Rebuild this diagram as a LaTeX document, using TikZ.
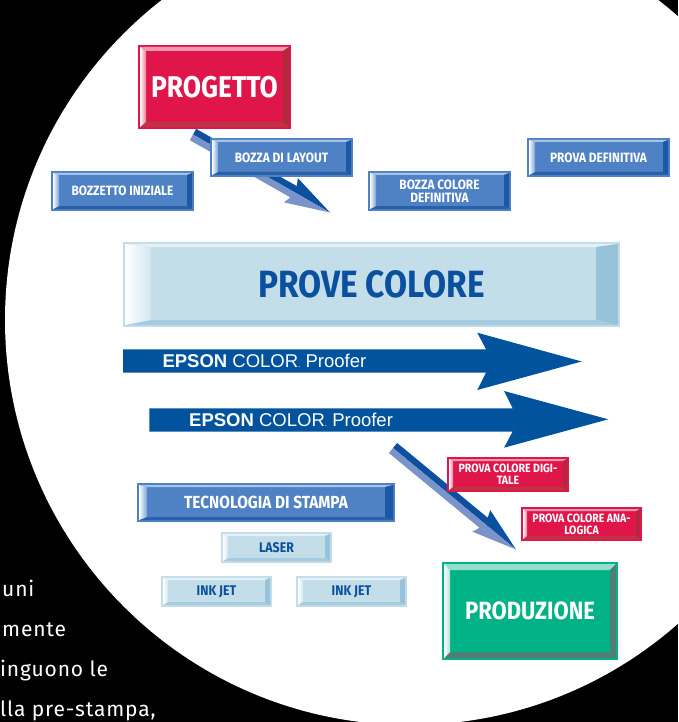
\documentclass[tikz,border=0pt]{standalone}
\usepackage{fontspec}
\newfontfamily\labf{Fira Sans}[FakeStretch=0.88]
\newfontfamily\arialf{Liberation Sans}
\newfontfamily\bodyf{Fira Sans}[LetterSpace=4]
\usetikzlibrary{calc}
\definecolor{crim}{RGB}{224,22,75}
\definecolor{mblue}{RGB}{79,130,196}
\definecolor{lblue}{RGB}{195,221,233}
\definecolor{dblue}{RGB}{10,80,158}
\definecolor{grn}{RGB}{0,178,134}
\definecolor{arrowblue}{RGB}{0,83,156}
\definecolor{alight}{RGB}{122,147,201}
\definecolor{adark}{RGB}{14,80,160}
% bevel colours
\definecolor{rtop}{RGB}{240,150,172}
\definecolor{rleft}{RGB}{238,120,150}
\definecolor{rright}{RGB}{180,40,60}
\definecolor{rbot}{RGB}{190,50,70}
\definecolor{btop}{RGB}{170,196,232}
\definecolor{bleft}{RGB}{120,160,215}
\definecolor{bright}{RGB}{28,88,165}
\definecolor{bbot}{RGB}{40,96,170}
\definecolor{ltop}{RGB}{228,240,246}
\definecolor{lleft}{RGB}{210,230,240}
\definecolor{lright}{RGB}{150,195,218}
\definecolor{lbot}{RGB}{165,203,224}
\definecolor{gtop}{RGB}{150,220,200}
\definecolor{gleft}{RGB}{170,228,212}
\definecolor{gright}{RGB}{80,125,118}
\definecolor{gbot}{RGB}{80,125,118}
% #1 node, #2 top, #3 left, #4 right, #5 bottom, #6 wt, #7 wl, #8 wr, #9 wb
\newcommand\mybevel[9]{%
 \pgfmathsetmacro\bt{2+#6}\pgfmathsetmacro\bl{2+#7}%
 \pgfmathsetmacro\br{2+#8}\pgfmathsetmacro\bb{2+#9}%
 \coordinate (o1) at ($(#1.north west)+(2pt,-2pt)$);
 \coordinate (o2) at ($(#1.north east)+(-2pt,-2pt)$);
 \coordinate (o3) at ($(#1.south east)+(-2pt,2pt)$);
 \coordinate (o4) at ($(#1.south west)+(2pt,2pt)$);
 \coordinate (i1) at ($(#1.north west)+(\bl pt,-\bt pt)$);
 \coordinate (i2) at ($(#1.north east)+(-\br pt,-\bt pt)$);
 \coordinate (i3) at ($(#1.south east)+(-\br pt,\bb pt)$);
 \coordinate (i4) at ($(#1.south west)+(\bl pt,\bb pt)$);
 \fill[#2] (o1) -- (o2) -- (i2) -- (i1) -- cycle;
 \fill[#4] (o2) -- (o3) -- (i3) -- (i2) -- cycle;
 \fill[#5] (o3) -- (o4) -- (i4) -- (i3) -- cycle;
 \shade[left color=white, right color=#3] (o4) -- (o1) -- (i1) -- (i4) -- cycle;
}
% #1 tail, #2 tip
\newcommand\threedarrow[2]{%
 \coordinate (qB) at ($(#2)!42pt!(#1)$);
 \coordinate (qC) at ($(#2)!45pt!(#1)$);
 \fill[adark] (#1) -- ($(#1)!6.5pt!90:(#2)$) -- ($(qB)!6.5pt!90:(#2)$) -- ($(qC)!14pt!90:(#2)$) -- (#2) -- cycle;
 \fill[alight] (#1) -- ($(#1)!6.5pt!-90:(#2)$) -- ($(qB)!6.5pt!-90:(#2)$) -- ($(qC)!14pt!-90:(#2)$) -- (#2) -- cycle;
}
\tikzset{
 box/.style={inner sep=0pt, outer sep=0pt, align=center},
 redbox/.style={box, fill=crim, text=white},
 bluebox/.style={box, fill=mblue, text=white},
 lbox/.style={box, fill=lblue, text=dblue},
 greenbox/.style={box, fill=grn, text=white},
 smallbox/.style={minimum width=143pt, minimum height=39pt, font=\labf\bfseries\fontsize{13.5}{13.5}\selectfont},
 tinybox/.style={minimum width=111pt, minimum height=31pt, font=\labf\bfseries\fontsize{14}{14}\selectfont},
 redsmall/.style={minimum width=122pt, minimum height=35pt, font=\labf\bfseries\fontsize{12}{12}\selectfont},
 epson/.style={anchor=base west, inner sep=0pt, text=white, font=\arialf\fontsize{18.5}{18.5}\selectfont},
 body/.style={anchor=base west, inner sep=0pt, text=white, font=\bodyf\fontsize{21}{21}\selectfont},
 bigarrow/.style={fill=arrowblue}
}
\begin{document}
\begin{tikzpicture}[x=1pt,y=-1pt]
\useasboundingbox (0,0) rectangle (678,722);
\begin{scope}
 \clip (0,0) rectangle (678,722);
 \fill[black] (0,0) rectangle (678,722);
 \fill[white] (410,320) circle [radius=405pt];
\end{scope}

% 3D arrows
\coordinate (aT) at (193,134.5);
\coordinate (aP) at (330,212.5);
\threedarrow{aT}{aP}
\coordinate (bT) at (393,448);
\coordinate (bP) at (516,549.5);
\threedarrow{bT}{bP}

% EPSON arrows
\fill[bigarrow] (123,349.3) -- (486,349.3) -- (477.3,332.7) -- (581.7,361.5) -- (477.3,390) -- (486,372.7) -- (123,372.7) -- cycle;
\fill[bigarrow] (149.3,408.3) -- (512.7,408.3) -- (504,391) -- (608.3,419.3) -- (504,447.7) -- (512.7,431.5) -- (149.3,431.5) -- cycle;
\node[epson] (ep1) at (162.3,367.7) {\textbf{EPSON} COLOR{\fontsize{8}{8}\selectfont.} Proofer};
\node[epson] (ep2) at (189,426.7) {\textbf{EPSON} COLOR{\fontsize{8}{8}\selectfont.} Proofer};

% boxes
\node[redbox, minimum width=153pt, minimum height=84pt, font=\labf\bfseries\fontsize{30}{30}\selectfont] (prog) at (214.5,87) {PROGETTO};
\mybevel{prog}{rtop}{rleft}{rright}{rbot}{4}{6}{6}{5}

\node[bluebox, smallbox] (bozlay) at (281.5,157.5) {BOZZA DI LAYOUT};
\mybevel{bozlay}{btop}{bleft}{bright}{bbot}{2}{6}{5}{3}
\node[bluebox, smallbox, minimum height=40pt] (bozini) at (122.5,191) {BOZZETTO INIZIALE};
\mybevel{bozini}{btop}{bleft}{bright}{bbot}{2}{6}{5}{3}
\node[bluebox, smallbox, minimum height=40pt] (bozcol) at (439.5,191) {BOZZA COLORE\\DEFINITIVA};
\mybevel{bozcol}{btop}{bleft}{bright}{bbot}{2}{6}{5}{3}
\node[bluebox, smallbox] (provdef) at (598.5,157.5) {PROVA DEFINITIVA};
\mybevel{provdef}{btop}{bleft}{bright}{bbot}{2}{6}{5}{3}

\node[lbox, minimum width=497pt, minimum height=85pt, font=\labf\bfseries\fontsize{38}{38}\selectfont] (prove) at (371.5,284.5) {PROVE COLORE};
\mybevel{prove}{ltop}{lleft}{lright}{lbot}{3}{26}{22}{5}

\node[redbox, redsmall] (pcd) at (508,474.5) {PROVA COLORE DIGI-\\TALE};
\mybevel{pcd}{rtop}{rleft}{rright}{rbot}{2}{4}{4}{3}
\node[redbox, redsmall, minimum width=121pt, minimum height=34pt] (pca) at (581.5,524) {PROVA COLORE ANA-\\LOGICA};
\mybevel{pca}{rtop}{rleft}{rright}{rbot}{2}{4}{4}{3}

\node[bluebox, minimum width=258pt, minimum height=39pt, font=\labf\bfseries\fontsize{17.5}{17.5}\selectfont] (tec) at (266,502.5) {TECNOLOGIA DI STAMPA};
\mybevel{tec}{btop}{bleft}{bright}{bbot}{2}{8}{8}{3}

\node[lbox, tinybox] (laser) at (276.5,547.5) {LASER};
\mybevel{laser}{ltop}{lleft}{lright}{lbot}{2}{5}{5}{3}
\node[lbox, tinybox] (ink1) at (216.5,591.5) {INK JET};
\mybevel{ink1}{ltop}{lleft}{lright}{lbot}{2}{5}{5}{3}
\node[lbox, tinybox] (ink2) at (351.5,591.5) {INK JET};
\mybevel{ink2}{ltop}{lleft}{lright}{lbot}{2}{5}{5}{3}

\node[greenbox, minimum width=176pt, minimum height=98pt, font=\labf\bfseries\fontsize{25}{25}\selectfont] (prod) at (530,611) {PRODUZIONE};
\mybevel{prod}{gtop}{gleft}{gright}{gbot}{6}{6}{6}{6}

% body text
\node[body] (t1) at (2,596) {uni};
\node[body] (t2) at (2,636) {mente};
\node[body] (t3) at (0,676) {inguono le};
\node[body] (t4) at (0,716) {lla pre-stampa,};
\end{tikzpicture}
\end{document}
